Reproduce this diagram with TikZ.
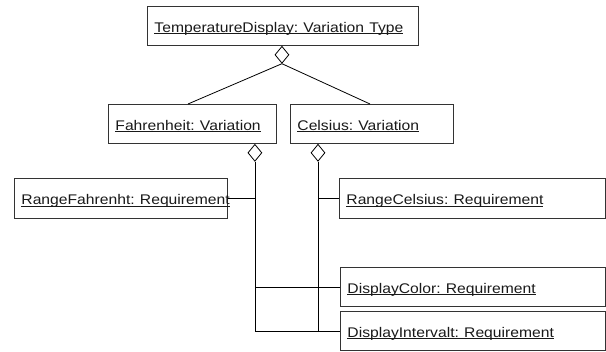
\documentclass[tikz,border=0pt]{standalone}
\usepackage{fontspec}
\usepackage{graphicx}
\setmainfont{Liberation Sans}
\frenchspacing
\usetikzlibrary{shapes.geometric}
\newcommand\ulx[1]{\setbox0\hbox{#1}\rlap{\rule[-1.5pt]{\wd0}{0.85pt}}\box0}
\newcommand\objtext[1]{\scalebox{1.12}[1]{\ulx{#1}}}
\begin{document}
\begin{tikzpicture}[x=1pt,y=-1pt,
  obj/.style={draw=black!80, line width=0.9pt, anchor=north west, inner xsep=7pt, inner ysep=0pt,
    align=left, text height=13pt, text depth=0pt, text=black!90,
    font=\fontsize{14}{16}\selectfont\frenchspacing},
  dia/.style={draw=black, line width=0.8pt, diamond, fill=white, inner sep=0pt,
    minimum width=14pt, minimum height=17pt, anchor=north},
  conn/.style={draw=black, line width=0.8pt}]
\useasboundingbox (0,0) rectangle (606,352);
\node[obj, text width=257pt, minimum height=39pt] (top) at (147,6) {\objtext{TemperatureDisplay: Variation Type}};
\node[obj, text width=154pt, minimum height=39pt] (fahr) at (108,104) {\objtext{Fahrenheit: Variation}};
\node[obj, text width=149pt, minimum height=39pt] (cels) at (290,104) {\objtext{Celsius: Variation}};
\node[obj, text width=199pt, minimum height=40pt] (rf) at (14,178) {\objtext{RangeFahrenht: Requirement}};
\node[obj, text width=252pt, minimum height=40pt] (rc) at (339,178) {\objtext{RangeCelsius: Requirement}};
\node[obj, text width=251pt, minimum height=39pt] (dc) at (340,267) {\objtext{DisplayColor: Requirement}};
\node[obj, text width=251pt, minimum height=39pt] (di) at (340,311) {\objtext{DisplayIntervalt: Requirement}};
\node[dia] (d0) at ([xshift=-1pt]top.south) {};
\node[dia] (d1) at ([xshift=-22pt]fahr.south east) {};
\node[dia] (d2) at ([xshift=28pt]cels.south west) {};
\draw[conn] (d0.south) -- ([xshift=80pt]fahr.north west);
\draw[conn] (d0.south) -- ([xshift=80pt]cels.north west);
\draw[conn] (d1.south) |- (di.west);
\draw[conn] (d2.south) |- (di.west);
\draw[conn] (rf.east) -- (rf.east -| d1.south);
\draw[conn] (rc.west) -- (rc.west -| d2.south);
\draw[conn] (dc.west) -- (dc.west -| d1.south);
\end{tikzpicture}
\end{document}
